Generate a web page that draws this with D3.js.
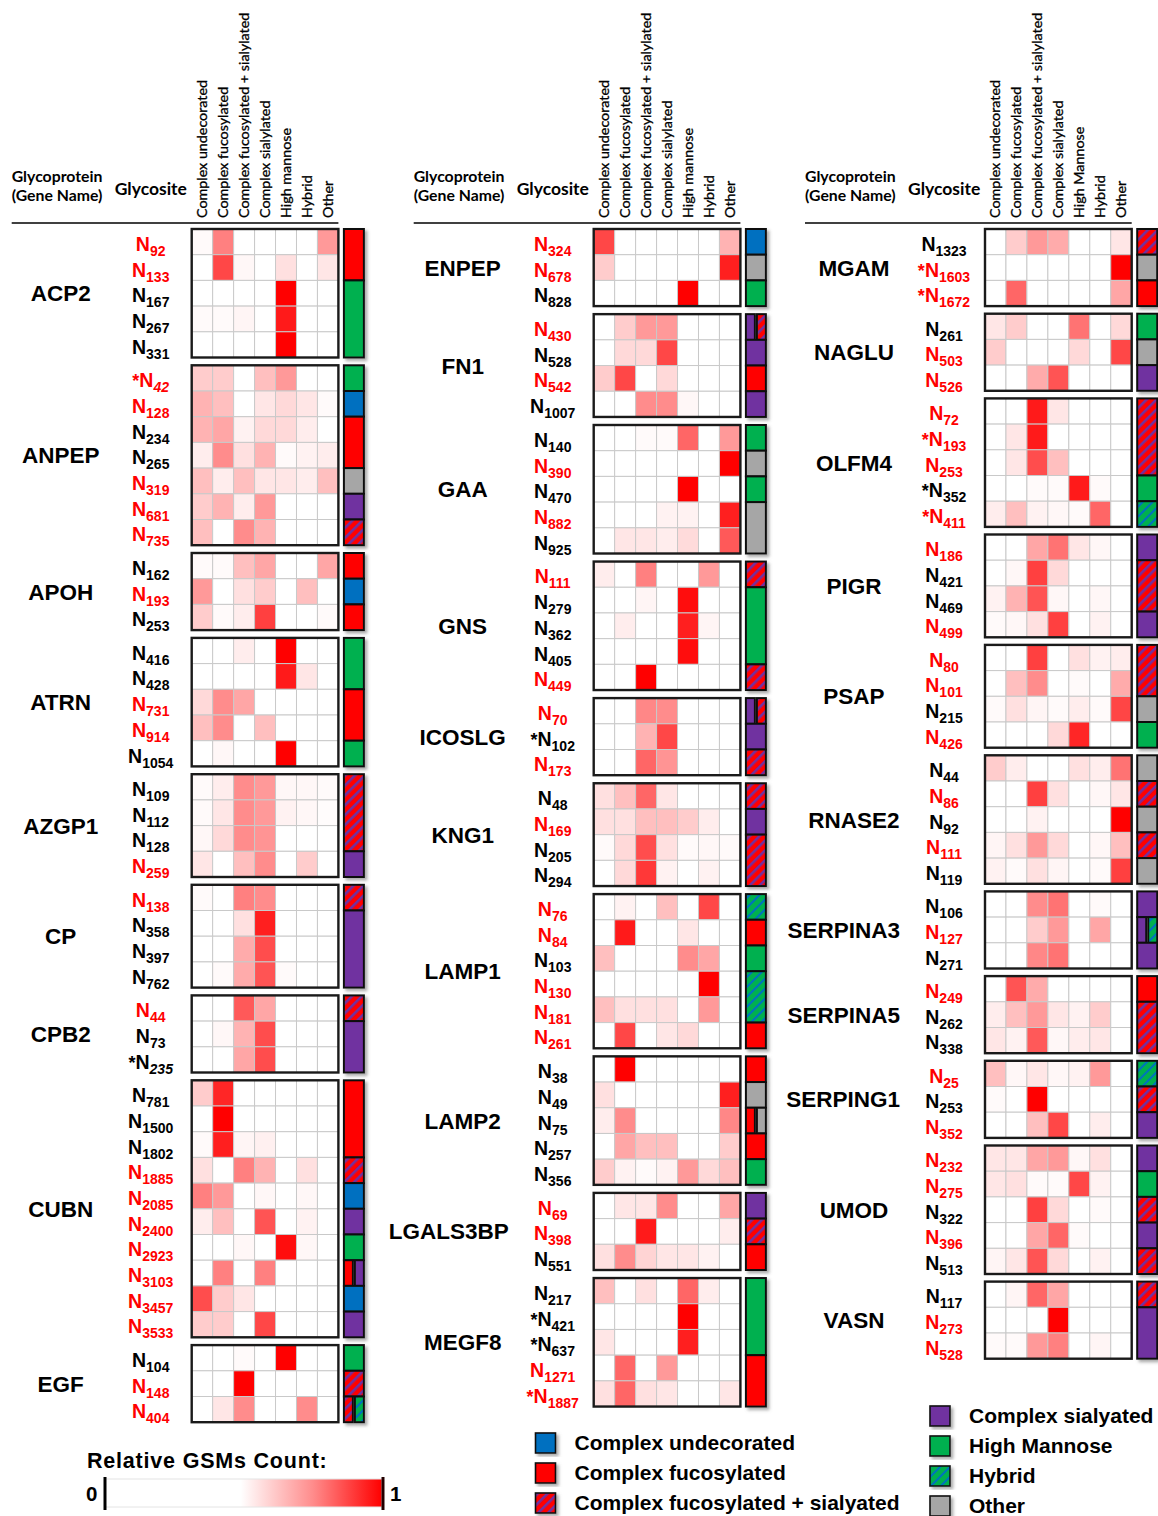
<!DOCTYPE html>
<html>
<head>
<meta charset="utf-8">
<script src="https://cdn.jsdelivr.net/npm/d3@7"></script>
<style>
  body { margin: 0; background: #fff; }
  svg { display: block; }
</style>
</head>
<body>
<div id="chart-area"></div>
<script>
// glycan categories (heatmap columns)
const categories = ["Complex undecorated", "Complex fucosylated", "Complex fucosylated + sialylated",
  "Complex sialylated", "High mannose", "Hybrid", "Other"]
const highMannoseLabel = ["High mannose", "High mannose", "High Mannose"]

// genes per panel
const panelGenes = [
  ["ACP2", "ANPEP", "APOH", "ATRN", "AZGP1", "CP", "CPB2", "CUBN", "EGF"],
  ["ENPEP", "FN1", "GAA", "GNS", "ICOSLG", "KNG1", "LAMP1", "LAMP2", "LGALS3BP", "MEGF8"],
  ["MGAM", "NAGLU", "OLFM4", "PIGR", "PSAP", "RNASE2", "SERPINA3", "SERPINA5", "SERPING1", "UMOD", "VASN"]
]

// glycosites per gene
const sites = {
  ACP2: ["N92", "N133", "N167", "N267", "N331"],
  ANPEP: ["*N42", "N128", "N234", "N265", "N319", "N681", "N735"],
  APOH: ["N162", "N193", "N253"],
  ATRN: ["N416", "N428", "N731", "N914", "N1054"],
  AZGP1: ["N109", "N112", "N128", "N259"],
  CP: ["N138", "N358", "N397", "N762"],
  CPB2: ["N44", "N73", "*N235"],
  CUBN: ["N781", "N1500", "N1802", "N1885", "N2085", "N2400", "N2923", "N3103", "N3457", "N3533"],
  EGF: ["N104", "N148", "N404"],
  ENPEP: ["N324", "N678", "N828"],
  FN1: ["N430", "N528", "N542", "N1007"],
  GAA: ["N140", "N390", "N470", "N882", "N925"],
  GNS: ["N111", "N279", "N362", "N405", "N449"],
  ICOSLG: ["N70", "*N102", "N173"],
  KNG1: ["N48", "N169", "N205", "N294"],
  LAMP1: ["N76", "N84", "N103", "N130", "N181", "N261"],
  LAMP2: ["N38", "N49", "N75", "N257", "N356"],
  LGALS3BP: ["N69", "N398", "N551"],
  MEGF8: ["N217", "*N421", "*N637", "N1271", "*N1887"],
  MGAM: ["N1323", "*N1603", "*N1672"],
  NAGLU: ["N261", "N503", "N526"],
  OLFM4: ["N72", "*N193", "N253", "*N352", "*N411"],
  PIGR: ["N186", "N421", "N469", "N499"],
  PSAP: ["N80", "N101", "N215", "N426"],
  RNASE2: ["N44", "N86", "N92", "N111", "N119"],
  SERPINA3: ["N106", "N127", "N271"],
  SERPINA5: ["N249", "N262", "N338"],
  SERPING1: ["N25", "N253", "N352"],
  UMOD: ["N232", "N275", "N322", "N396", "N513"],
  VASN: ["N117", "N273", "N528"]
}

// 1 = site label in red
const siteRed = {
  ACP2: [1,1,0,0,0], ANPEP: [1,1,0,0,1,1,1], APOH: [0,1,0], ATRN: [0,0,1,1,0], AZGP1: [0,0,0,1],
  CP: [1,0,0,0], CPB2: [1,0,0], CUBN: [0,0,0,1,1,1,1,1,1,1], EGF: [0,1,1],
  ENPEP: [1,1,0], FN1: [1,0,1,0], GAA: [0,1,0,1,0], GNS: [1,0,0,0,1], ICOSLG: [1,0,1], KNG1: [0,1,0,0],
  LAMP1: [1,1,0,1,1,1], LAMP2: [0,0,0,0,0], LGALS3BP: [1,1,0], MEGF8: [0,0,0,1,1],
  MGAM: [0,1,1], NAGLU: [0,1,1], OLFM4: [1,1,1,0,1], PIGR: [1,0,0,1], PSAP: [1,1,0,1], RNASE2: [0,1,0,1,0],
  SERPINA3: [0,1,0], SERPINA5: [1,0,0], SERPING1: [1,0,1], UMOD: [1,1,0,1,0], VASN: [0,1,1]
}
const italicSub = ["ANPEP *N42", "CPB2 *N235"]

// relative GSM counts (rows = sites, columns = categories)
const gsm = {
  ACP2: [[.02,.5,0,0,0,0,.4],[0,.72,.03,0,.12,0,.1],[0,0,0,0,1,0,0],[.02,.02,.04,0,.9,0,0],[0,0,0,0,1,0,0]],
  ANPEP: [[.2,.2,0,.25,.4,0,0],[.3,.25,0,.1,.15,.1,.02],[.3,.35,.05,.15,.15,.07,0],[.07,.45,.12,.3,.02,.05,.07],
    [.25,.07,.25,.1,.1,.07,.25],[.2,.3,.07,.4,0,0,0],[.25,0,.45,.3,0,0,0]],
  APOH: [[.02,.02,.25,.35,0,0,.35],[.4,0,.12,.2,0,.25,0],[.2,.02,.07,.75,0,0,.02]],
  ATRN: [[0,0,.07,0,1,0,0],[0,0,0,0,.9,.1,0],[.15,.45,.35,0,0,0,0],[.25,.45,0,.25,0,0,0],[0,.03,0,0,1,0,0]],
  AZGP1: [[.02,.07,.45,.4,.03,.03,.02],[.02,.1,.45,.4,.05,.03,.01],[.03,.15,.45,.42,0,0,0],[.1,0,.25,.45,0,.2,0]],
  CP: [[.02,0,.5,.45,0,0,0],[0,0,.12,.88,0,0,0],[0,0,.33,.7,0,0,0],[0,.02,.33,.67,.02,0,0]],
  CPB2: [[0,0,.65,.35,0,0,0],[0,.03,.3,.7,0,0,0],[0,0,.35,.7,0,0,0]],
  CUBN: [[.2,.85,0,0,0,0,0],[0,1,0,0,0,0,0],[.02,.88,.04,.06,0,0,0],[.12,0,.5,.3,0,.12,0],[.5,.4,0,.03,0,.03,0],
    [.07,.25,0,.67,0,.05,0],[0,0,.03,0,.95,.03,0],[0,.5,0,.5,0,0,0],[.7,.2,.1,0,0,0,0],[.2,.2,0,.72,0,0,0]],
  EGF: [[0,0,.02,0,1,0,0],[0,0,1,0,0,0,0],[0,.1,.45,0,0,.45,0]],
  ENPEP: [[.72,0,0,0,0,0,.3],[.2,0,0,0,0,0,.88],[0,0,0,0,1,0,0]],
  FN1: [[0,.2,.4,.4,0,0,0],[0,.15,.15,.72,0,0,0],[.2,.72,0,.15,0,0,0],[0,0,.45,.45,.03,0,0]],
  GAA: [[0,0,.02,.02,.6,0,.4],[0,0,0,0,0,0,1],[0,0,0,0,1,0,0],[0,0,0,.05,.05,0,.88],[0,.1,.1,.07,.14,0,.65]],
  GNS: [[.07,0,.5,0,0,.4,0],[0,0,.04,0,.95,0,0],[0,.07,0,0,.88,.04,0],[0,0,0,0,.95,0,0],[0,0,1,0,0,0,0]],
  ICOSLG: [[0,0,.47,.45,0,0,0],[0,0,.3,.72,0,0,0],[0,0,.6,.42,0,0,0]],
  KNG1: [[.12,.25,.6,.1,0,0,0],[.12,.12,.25,.25,.2,.07,0],[.02,.15,.7,.12,.02,.03,.02],[0,.15,.78,.05,0,.05,0]],
  LAMP1: [[0,.05,0,.25,0,.72,0],[0,.9,0,0,.1,0,0],[.25,0,0,0,.45,.35,0],[0,0,0,0,0,1,0],
    [.25,.12,.12,.12,0,.4,0],[0,.72,0,.1,.15,0,0]],
  LAMP2: [[0,1,0,0,0,0,0],[.12,0,0,0,0,0,.88],[.07,.45,0,0,0,0,.47],[0,.35,.25,.25,0,0,.2],[.2,.05,.02,.05,.4,.15,.25]],
  LGALS3BP: [[0,.1,.1,.45,0,0,.35],[0,0,.9,0,0,0,.07],[.12,.45,.17,.1,.1,.05,0]],
  MEGF8: [[.25,0,.12,0,.6,.07,0],[0,0,0,0,1,0,0],[.1,0,0,0,.88,0,0],[0,.6,0,.4,0,0,0],[.12,.6,.12,.1,0,0,.1]],
  MGAM: [[0,.2,.4,.33,0,0,.1],[0,0,0,0,0,0,1],[0,.6,0,0,0,0,.35]],
  NAGLU: [[.1,.2,0,0,.55,0,.15],[.2,0,0,0,.15,0,.72],[0,0,.33,.67,0,0,0]],
  OLFM4: [[0,0,.9,.1,0,0,0],[0,.1,.9,0,0,0,0],[0,.1,.7,.25,0,0,0],[0,0,.02,.02,.9,.02,0],[.07,.25,.05,.03,.02,.6,0]],
  PIGR: [[0,0,.35,.55,.1,.03,0],[0,.03,.75,.15,0,0,0],[.05,.3,.67,.03,0,.03,0],[.02,.03,.12,.75,0,.05,0]],
  PSAP: [[0,0,.75,0,.12,.05,.07],[0,.25,.45,0,.02,0,.33],[.02,.12,.04,.02,.07,.02,.73],[0,0,0,.15,.85,0,0]],
  RNASE2: [[.2,.07,0,0,.12,.07,.55],[0,0,.75,.12,0,.03,.1],[0,0,.05,0,0,0,1],[.04,.12,.4,.15,0,.03,.25],
    [.05,.02,.12,.04,0,.02,.75]],
  SERPINA3: [[0,0,.45,.55,0,.02,0],[0,0,.2,.4,0,.35,0],[0,0,.47,.55,0,0,0]],
  SERPINA5: [[0,.67,.33,0,0,0,0],[.07,.25,.4,.1,.05,.2,0],[.1,.05,.65,.03,.07,.1,0]],
  SERPING1: [[.25,.03,.1,.03,.05,.4,0],[.02,0,1,0,0,0,0],[0,0,.25,.72,0,.07,0]],
  UMOD: [[.1,.1,.35,.4,.03,.12,0],[.1,.12,.02,.02,.72,.05,0],[0,0,.75,.15,0,.02,0],[0,0,.35,.6,.02,0,0],
    [.04,.1,.67,.15,0,.05,0]],
  VASN: [[0,.04,.6,.35,0,0,0],[0,0,0,1,0,0,0],[.02,.02,.4,.5,0,.04,0]]
}

// dominant glycan class per site; "a|b" = two classes
const siteClass = {
  ACP2: ["F","F","HM","HM","HM"], ANPEP: ["HM","U","F","F","O","S","FS"], APOH: ["F","U","F"],
  ATRN: ["HM","HM","F","F","HM"], AZGP1: ["FS","FS","FS","S"], CP: ["FS","S","S","S"], CPB2: ["FS","S","S"],
  CUBN: ["F","F","F","FS","U","S","HM","F|S","U","S"], EGF: ["HM","FS","FS|H"],
  ENPEP: ["U","O","HM"], FN1: ["S|FS","S","F","S"], GAA: ["HM","O","HM","O","O"], GNS: ["FS","HM","HM","HM","FS"],
  ICOSLG: ["S|FS","S","FS"], KNG1: ["FS","S","FS","FS"], LAMP1: ["H","F","HM","H","H","F"],
  LAMP2: ["F","O","F|O","F","HM"], LGALS3BP: ["S","FS","F"], MEGF8: ["HM","HM","HM","F","F"],
  MGAM: ["FS","O","F"], NAGLU: ["HM","O","S"], OLFM4: ["FS","FS","FS","HM","H"], PIGR: ["S","FS","FS","S"],
  PSAP: ["FS","FS","O","HM"], RNASE2: ["O","FS","O","FS","O"], SERPINA3: ["S","S|H","S"],
  SERPINA5: ["F","FS","FS"], SERPING1: ["H","FS","S"], UMOD: ["S","HM","FS","S","FS"], VASN: ["FS","S","S"]
}

const legendLeft = [["U", "Complex undecorated"], ["F", "Complex fucosylated"], ["FS", "Complex fucosylated + sialyated"]]
const legendRight = [["S", "Complex sialyated"], ["HM", "High Mannose"], ["H", "Hybrid"], ["O", "Other"]]

// layout
const TOP = 229
const ROW_H = 25.7
const HEAT_W = 146.7
const panelLeft = [191.7, 593.7, 985]
const panelGap = [7.8, 8.05, 7.6]
const ARIAL = "'Liberation Sans', Arial, sans-serif"
const CALIBRI = "Lato, 'Open Sans', sans-serif"

const svg = d3.select("#chart-area").append("svg")
  .attr("width", 1158)
  .attr("height", 1516)
  .style("font-family", ARIAL)

const defs = svg.append("defs")
const shadow = defs.append("filter").attr("id", "shadow")
  .attr("x", "-40%").attr("y", "-10%").attr("width", "180%").attr("height", "130%")
shadow.append("feDropShadow")
  .attr("dx", 2.5).attr("dy", 2.5).attr("stdDeviation", 1.6)
  .attr("flood-color", "#666").attr("flood-opacity", 0.55)

function hatch(id, bg, fg, w) {
  const p = defs.append("pattern").attr("id", id)
    .attr("patternUnits", "userSpaceOnUse")
    .attr("width", 7).attr("height", 7)
    .attr("patternTransform", "rotate(45)")
  p.append("rect").attr("width", 7).attr("height", 7).attr("fill", bg)
  p.append("rect").attr("width", w).attr("height", 7).attr("fill", fg)
}
hatch("hatchFS", "#ff0000", "#7030a0", 2.6)
hatch("hatchH", "#00b050", "#0070c0", 2)

const classFill = { U: "#0070c0", F: "#ff0000", FS: "url(#hatchFS)", S: "#7030a0",
  HM: "#00b050", H: "url(#hatchH)", O: "#a6a6a6" }

// colour scale for cells
const color = d3.scaleLinear().domain([0, 1]).range(["#ffffff", "#ff0000"])

panelGenes.forEach((genes, p) => {
  const left = panelLeft[p]
  const x = d3.scaleBand().domain(categories).range([left, left + HEAT_W])
  const g = svg.append("g")

  // header
  g.append("line")
    .attr("x1", left - 180).attr("x2", left + HEAT_W)
    .attr("y1", 223).attr("y2", 223)
    .attr("stroke", "#000").attr("stroke-width", 1.3)
  g.append("text").attr("x", left - 180).attr("y", 182)
    .style("font-family", CALIBRI).style("font-weight", "bold").style("font-size", "15.8px")
    .text("Glycoprotein")
  g.append("text").attr("x", left - 180).attr("y", 201)
    .style("font-family", CALIBRI).style("font-weight", "bold").style("font-size", "15.8px")
    .text("(Gene Name)")
  g.append("text").attr("x", left - 77).attr("y", 195)
    .style("font-family", CALIBRI).style("font-weight", "bold").style("font-size", "17.5px")
    .text("Glycosite")
  categories.forEach((c, i) => {
    g.append("text")
      .attr("transform", `translate(${x(c) + x.bandwidth() / 2 + 5}, 218) rotate(-90)`)
      .style("font-family", CALIBRI).style("font-size", "14.3px")
      .attr("stroke", "#000").attr("stroke-width", 0.3)
      .text(i === 4 ? highMannoseLabel[p] : c)
  })

  // blocks
  let top = TOP
  genes.forEach(gene => {
    const s = sites[gene]
    const y = d3.scaleBand().domain(d3.range(s.length)).range([top, top + s.length * ROW_H])
    const blockH = s.length * ROW_H
    const bg = g.append("g")

    // cells
    s.forEach((site, r) => {
      bg.selectAll(null).data(gsm[gene][r]).enter().append("rect")
        .attr("x", (d, i) => x(categories[i]))
        .attr("y", y(r))
        .attr("width", x.bandwidth())
        .attr("height", y.bandwidth())
        .attr("fill", d => color(d))
        .attr("stroke", "#c9c9c9")
        .attr("stroke-width", 1)
    })
    bg.append("rect")
      .attr("x", left).attr("y", top)
      .attr("width", HEAT_W).attr("height", blockH)
      .attr("fill", "none").attr("stroke", "#1a1a1a").attr("stroke-width", 2.4)

    // gene name, long names pushed left of the site labels
    const gt = bg.append("text")
      .attr("y", top + blockH / 2 + 8)
      .attr("text-anchor", "middle")
      .style("font-weight", "bold").style("font-size", "22.5px")
      .text(gene)
    const gw = gt.node().getComputedTextLength()
    gt.attr("x", Math.min(left - 131, left - 85 - gw / 2))

    // site labels
    s.forEach((site, r) => {
      const star = site.startsWith("*")
      const num = site.replace("*", "").slice(1)
      const t = bg.append("text")
        .attr("x", left - 41).attr("y", y(r) + y.bandwidth() / 2 + 9)
        .attr("text-anchor", "middle")
        .attr("fill", siteRed[gene][r] ? "#ff0000" : "#000")
        .style("font-weight", "bold")
      if (star) t.append("tspan").style("font-size", "18px").text("*")
      t.append("tspan").style("font-size", "19.5px").text("N")
      t.append("tspan").attr("dy", 5).style("font-size", "14px")
        .style("font-style", italicSub.includes(gene + " " + site) ? "italic" : "normal")
        .text(num)
    })

    // class bar, consecutive equal classes merged
    const bx = left + HEAT_W + 5.5
    const segs = []
    siteClass[gene].forEach((c, r) => {
      const last = segs[segs.length - 1]
      if (last && last.c === c && !c.includes("|")) last.n++
      else segs.push({ c: c, r: r, n: 1 })
    })
    const cg = bg.append("g").attr("filter", "url(#shadow)")
    segs.forEach(sg => {
      const parts = sg.c.split("|")
      const w = parts.length === 1 ? 20 : 9
      parts.forEach((c, k) => {
        cg.append("rect")
          .attr("x", bx + k * 11).attr("y", y(sg.r))
          .attr("width", w).attr("height", sg.n * ROW_H)
          .attr("fill", classFill[c])
          .attr("stroke", "#111").attr("stroke-width", 2)
      })
    })

    top += blockH + panelGap[p]
  })
})

// colour legend
const lg = svg.append("g")
lg.append("text").attr("x", 87).attr("y", 1468)
  .style("font-weight", "bold").style("font-size", "21.5px").style("letter-spacing", "0.8px")
  .text("Relative GSMs Count:")
const grad = defs.append("linearGradient").attr("id", "gsmGrad")
grad.append("stop").attr("offset", "0%").attr("stop-color", color(0))
grad.append("stop").attr("offset", "49%").attr("stop-color", color(0))
grad.append("stop").attr("offset", "75%").attr("stop-color", color(0.45))
grad.append("stop").attr("offset", "100%").attr("stop-color", color(1))
lg.append("rect").attr("x", 105).attr("y", 1479).attr("width", 277).attr("height", 28)
  .attr("fill", "url(#gsmGrad)").attr("stroke", "#e4e4e4").attr("stroke-width", 1)
lg.append("line").attr("x1", 105).attr("x2", 105).attr("y1", 1477).attr("y2", 1510)
  .attr("stroke", "#000").attr("stroke-width", 3)
lg.append("line").attr("x1", 383).attr("x2", 383).attr("y1", 1477).attr("y2", 1510)
  .attr("stroke", "#200").attr("stroke-width", 3)
lg.append("text").attr("x", 86).attr("y", 1501)
  .style("font-weight", "bold").style("font-size", "20.5px").text("0")
lg.append("text").attr("x", 390).attr("y", 1501)
  .style("font-weight", "bold").style("font-size", "20.5px").text("1")

// class legends
function classLegend(items, x0, y0) {
  const k = svg.append("g")
  items.forEach((d, i) => {
    k.append("rect").attr("x", x0).attr("y", y0 + i * 30)
      .attr("width", 20).attr("height", 20)
      .attr("fill", classFill[d[0]]).attr("stroke", "#111").attr("stroke-width", 1.6)
      .attr("filter", "url(#shadow)")
    k.append("text").attr("x", x0 + 39).attr("y", y0 + i * 30 + 17)
      .style("font-weight", "bold").style("font-size", "21px")
      .text(d[1])
  })
}
classLegend(legendLeft, 535.5, 1433)
classLegend(legendRight, 930, 1406)
</script>
</body>
</html>
